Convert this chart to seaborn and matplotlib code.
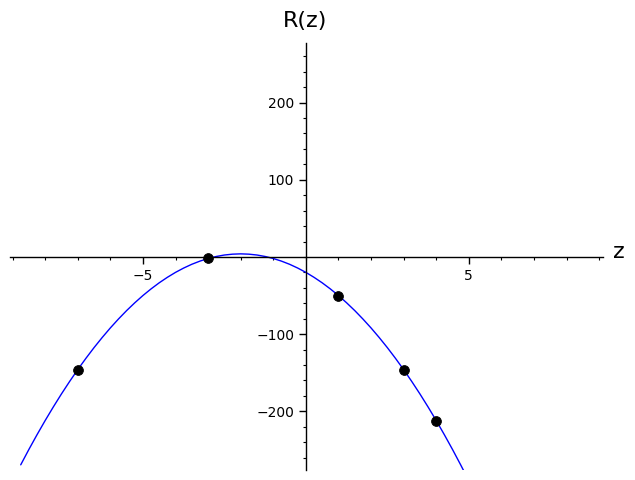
import matplotlib
matplotlib.use("Agg")
import matplotlib.pyplot as plt
from matplotlib.ticker import FixedLocator, MultipleLocator
import seaborn as sns
import pandas as pd

# curve samples R(z)
curve_z = [-8.75, -8.5, -8.25, -8.0, -7.75, -7.5, -7.25, -7.0, -6.75, -6.5, -6.25, -6.0, -5.75,
           -5.5, -5.25, -5.0, -4.75, -4.5, -4.25, -4.0, -3.75, -3.5, -3.25, -3.0, -2.75, -2.5, -2.25,
           -2.0, -1.75, -1.5, -1.25, -1.0, -0.75, -0.5, -0.25, 0.0, 0.25, 0.5, 0.75, 1.0, 1.25, 1.5,
           1.75, 2.0, 2.25, 2.5, 2.75, 3.0, 3.25, 3.5, 3.75, 4.0, 4.25, 4.5, 4.75, 5.0]
curve_r = [-269.4, -249.5, -230.4, -212, -194.4, -177.5, -161.4, -146, -131.4, -117.5, -104.4,
           -92, -80.4, -69.5, -59.4, -50, -41.4, -33.5, -26.4, -20, -14.4, -9.5, -5.4, -2, 0.6, 2.5,
           3.6, 4, 3.6, 2.5, 0.6, -2, -5.4, -9.5, -14.4, -20, -26.4, -33.5, -41.4, -50, -59.4, -69.5,
           -80.4, -92, -104.4, -117.5, -131.4, -146, -161.4, -177.5, -194.4, -212, -230.4, -249.5,
           -269.4, -290]

# marked points
pts_z = [-7, -3, 1, 3, 4]
pts_r = [-146, -2, -50, -146, -212]

x_ticks = [-5, 5]
y_ticks = [-200, -100, 100, 200]

sns.set_style("white")

curve = pd.DataFrame({"z": curve_z, "R": curve_r})
pts = pd.DataFrame({"z": pts_z, "R": pts_r})

fig = plt.figure(figsize=(6.35, 4.8), dpi=100)
ax = fig.add_axes([0.0157, 0.021, 0.934, 0.889])

sns.lineplot(data=curve, x="z", y="R", color="blue", linewidth=1, ax=ax, zorder=2)
sns.scatterplot(data=pts, x="z", y="R", color="black", s=50, edgecolor="black", ax=ax, zorder=3)

ax.set_xlim(-9.08, 9.12)
ax.set_ylim(-276, 277)

ax.spines["left"].set_position(("data", 0))
ax.spines["bottom"].set_position(("data", 0))
ax.spines["top"].set_visible(False)
ax.spines["right"].set_visible(False)
for s in ("left", "bottom"):
    ax.spines[s].set_color("black")
    ax.spines[s].set_linewidth(1)

ax.xaxis.set_major_locator(FixedLocator(x_ticks))
ax.yaxis.set_major_locator(FixedLocator(y_ticks))
ax.xaxis.set_minor_locator(MultipleLocator(1))
ax.yaxis.set_minor_locator(MultipleLocator(20))
ax.set_xticklabels(["\u22125", "5"])
ax.set_yticklabels(["\u2212200", "\u2212100", "100", "200"])
ax.tick_params(which="major", direction="out", length=5, width=1, labelsize=10, colors="black")
ax.tick_params(which="minor", direction="out", length=2.5, width=0.8, colors="black")
ax.tick_params(axis="x", which="both", bottom=True, top=False)
ax.tick_params(axis="y", which="both", left=True, right=False)

ax.set_xlabel("")
ax.set_ylabel("")
fig.text(0.975, 0.475, "z", fontsize=16, ha="center", va="center", color="black")
fig.text(0.481, 0.957, "R(z)", fontsize=16, ha="center", va="center", color="black")

fig.savefig("out.png", dpi=100)
